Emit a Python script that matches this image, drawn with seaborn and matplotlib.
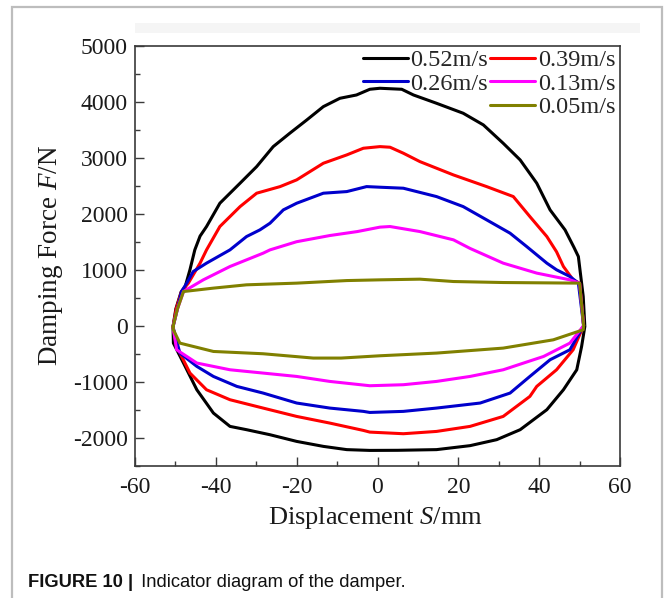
import matplotlib
matplotlib.use("Agg")
import matplotlib.pyplot as plt
import seaborn as sns
from matplotlib.lines import Line2D
from matplotlib.patches import Rectangle
from matplotlib.ticker import MultipleLocator

# ---------------- data ----------------
labels = ["0.52m/s", "0.39m/s", "0.26m/s", "0.13m/s", "0.05m/s"]
colors = ["#000000", "#ff0000", "#0000cc", "#ff00ff", "#808000"]

# 0.52 m/s
v052_up_x = [-50.6, -49.9, -48.6, -47.6, -46.4, -45.2, -43.9, -42.3, -39.0, -34.0, -29.9, -25.8, -21.7,
             -17.5, -13.4, -9.3, -5.2, -1.9, 0.6, 6.0, 8.9, 14.6, 21.2, 26.2, 31.1, 35.3, 39.4,
             42.7, 46.4, 48.6, 49.7, 50.5, 50.9, 51.3]
v052_up_y = [-20, 300, 600, 694, 1000, 1354, 1600, 1771, 2187, 2545, 2841, 3198, 3437,
             3674, 3912, 4061, 4120, 4222, 4240, 4222, 4120, 3972, 3794, 3585, 3258, 2960, 2545,
             2068, 1711, 1400, 1235, 760, 521, -14]
v052_lo_x = [51.3, 50.5, 49.3, 46.0, 41.9, 35.3, 29.5, 22.9, 14.6, 5.0, -1.9, -7.6, -13.4, -20.0,
             -26.6, -32.4, -36.5, -40.6, -44.7, -48.0, -50.5, -50.6]
v052_lo_y = [-14, -371, -787, -1144, -1500, -1857, -2035, -2142, -2213, -2225, -2227, -2213, -2155, -2066,
             -1947, -1857, -1798, -1560, -1144, -667, -311, -20]

# 0.39 m/s
v039_up_x = [-50.6, -49.8, -48.5, -46.8, -43.9, -42.3, -39.0, -34.0, -29.9, -24.1, -20.0, -13.4, -7.6,
             -3.5, 0.6, 3.1, 6.4, 10.5, 18.8, 27.0, 33.6, 37.7, 41.9, 44.3, 46.0, 48.4, 50.0, 51.0]
v039_up_y = [-20, 300, 610, 760, 1117, 1354, 1771, 2127, 2366, 2484, 2604, 2901, 3050,
             3169, 3198, 3187, 3080, 2930, 2692, 2484, 2306, 1949, 1592, 1320, 1057, 819, 760, 0]
v039_lo_x = [51.0, 48.4, 44.3, 39.4, 37.7, 31.1, 22.9, 14.6, 6.4, -1.9, -3.5, -11.8, -20.0, -28.3,
             -36.5, -42.3, -46.4, -49.7, -50.6]
v039_lo_y = [0, -430, -787, -1084, -1263, -1620, -1798, -1888, -1929, -1900, -1870, -1739, -1620, -1471,
             -1322, -1144, -846, -371, -20]

# 0.26 m/s
v026_up_x = [-50.6, -49.5, -48.5, -47.2, -45.6, -42.3, -36.5, -32.4, -29.1, -26.6, -23.3, -20.0, -13.4,
             -7.6, -2.7, 0.6, 6.4, 14.6, 21.2, 27.0, 32.8, 36.9, 41.9, 44.3, 47.6, 49.7, 51.0]
v026_up_y = [-20, 300, 610, 760, 967, 1117, 1354, 1592, 1711, 1830, 2068, 2187, 2366,
             2395, 2484, 2473, 2455, 2306, 2127, 1890, 1652, 1414, 1117, 998, 879, 760, 0]
v026_lo_x = [51.0, 47.6, 42.7, 37.7, 32.8, 25.4, 14.6, 6.4, -1.9, -3.5, -11.8, -20.0, -28.3, -34.8,
             -40.6, -44.7, -48.9, -50.6]
v026_lo_y = [0, -430, -608, -906, -1203, -1381, -1471, -1530, -1549, -1530, -1471, -1381, -1203, -1084,
             -906, -727, -489, -20]

# 0.13 m/s
v013_up_x = [-50.6, -49.5, -48.0, -43.1, -36.5, -28.3, -26.6, -20.0, -11.8, -5.0, 0.6, 3.1, 10.5, 18.8,
             22.9, 31.1, 39.4, 47.6, 50.0, 51.0]
v013_up_y = [-20, 300, 610, 819, 1057, 1295, 1354, 1500, 1610, 1681, 1760, 1771, 1681, 1533,
             1380, 1117, 939, 819, 760, 0]
v013_lo_x = [51.0, 47.6, 41.1, 31.1, 22.9, 14.6, 6.4, -1.9, -11.8, -20.0, -28.3, -36.5, -44.7, -49.7, -50.6]
v013_lo_y = [0, -311, -549, -787, -906, -995, -1054, -1072, -995, -906, -846, -787, -667, -430, -20]

# 0.05 m/s
v005_up_x = [-50.6, -49.5, -48.0, -40.6, -32.4, -20.0, -7.6, 0.6, 10.5, 18.8, 31.1, 50.0, 51.0]
v005_up_y = [-20, 300, 610, 671, 730, 760, 806, 819, 831, 789, 771, 760, 0]
v005_lo_x = [51.0, 50.9, 43.5, 31.1, 14.6, 0.6, -9.0, -15.9, -28.3, -40.6, -48.9, -50.5, -50.6]
v005_lo_y = [0, -73, -252, -400, -489, -537, -578, -578, -501, -460, -311, -73, -20]

x_ticks = [-60, -40, -20, 0, 20, 40, 60]
y_ticks = [-2000, -1000, 0, 1000, 2000, 3000, 4000, 5000]

series = [
    (v052_up_x + v052_lo_x, v052_up_y + v052_lo_y),
    (v039_up_x + v039_lo_x, v039_up_y + v039_lo_y),
    (v026_up_x + v026_lo_x, v026_up_y + v026_lo_y),
    (v013_up_x + v013_lo_x, v013_up_y + v013_lo_y),
    (v005_up_x + v005_lo_x, v005_up_y + v005_lo_y),
]

# ---------------- style ----------------
sns.set_style("ticks")
plt.rcParams['font.family'] = ['Liberation Serif', 'DejaVu Serif']
plt.rcParams['mathtext.fontset'] = 'custom'
plt.rcParams['mathtext.rm'] = 'Liberation Serif'
plt.rcParams['mathtext.it'] = 'Liberation Serif:italic'

W, H = 667, 598
fig = plt.figure(figsize=(W / 100, H / 100), dpi=100)
fig.patch.set_facecolor("white")

# figure frame and faint band
fig.patches.append(Rectangle((12 / W, -0.02), 650 / W, 1 - 7 / H + 0.02, transform=fig.transFigure,
                             fill=False, edgecolor="#bdbdbd", lw=1.6, zorder=0))
fig.patches.append(Rectangle((135 / W, 1 - 33 / H), 505 / W, 10 / H, transform=fig.transFigure,
                             facecolor="#f5f5f5", edgecolor="none", zorder=0))

ax = fig.add_axes([135 / W, 1 - 465.7 / H, 485 / W, 420 / H])

lw = 2.2
for (xs, ys), c in zip(series, colors):
    sns.lineplot(x=xs, y=ys, sort=False, estimator=None, color=c, lw=lw, ax=ax, legend=False)

ax.set_xlim(-60, 60)
ax.set_ylim(-2500, 5000)
ax.set_xticks(x_ticks)
ax.set_yticks(y_ticks)
ax.set_xticklabels([str(t) for t in x_ticks])
ax.set_yticklabels([str(t) for t in y_ticks])
ax.xaxis.set_minor_locator(MultipleLocator(10))
ax.yaxis.set_minor_locator(MultipleLocator(500))

for s in ax.spines.values():
    s.set_color("#3a3a3a")
    s.set_linewidth(1.2)

ax.tick_params(which="major", direction="in", length=6.5, width=1.0, color="#3a3a3a",
               labelsize=17, labelcolor="#1a1a1a")
ax.tick_params(which="minor", direction="in", length=3.5, width=1.0, color="#3a3a3a")
ax.tick_params(axis="x", which="major", pad=8)
ax.tick_params(axis="y", which="major", pad=5)
ax.tick_params(top=False, right=False, which="both")

ax.set_xlabel("Displacement $S$/mm", fontsize=19, color="#1a1a1a")
ax.set_ylabel("Damping Force $F$/N", fontsize=19.5, color="#1a1a1a")
ax.xaxis.set_label_coords(0.496, -0.093)
ax.yaxis.set_label_coords(-0.145, 0.5)

# legend: column 1 = 0.52, 0.26, blank ; column 2 = 0.39, 0.13, 0.05
h = [Line2D([], [], color=c, lw=lw) for c in colors]
blank = Line2D([], [], color="none")
handles = [h[0], h[2], blank, h[1], h[3], h[4]]
leg_labels = [labels[0], labels[2], "", labels[1], labels[3], labels[4]]
ax.legend(handles, leg_labels, ncol=2, loc="upper right", bbox_to_anchor=(0.99, 0.992),
          frameon=False, fontsize=17.5, handlelength=1.85, handletextpad=0.1,
          columnspacing=0.1, labelspacing=0.06, borderpad=0.0, borderaxespad=0.0)

# caption
cap_y = 1 - 586.7 / H
t1 = fig.text(28 / W, cap_y, "FIGURE 10 |", fontsize=13.2, fontweight="bold",
              family=["Liberation Sans", "DejaVu Sans"], va="baseline", ha="left", color="#111111")
fig.canvas.draw()
bb = t1.get_window_extent(fig.canvas.get_renderer())
fig.text((bb.x1 + 3) / W, cap_y, " Indicator diagram of the damper.", fontsize=13.2,
         family=["Liberation Sans", "DejaVu Sans"], va="baseline", ha="left", color="#111111")

fig.savefig("out.png", dpi=100, facecolor="white")
